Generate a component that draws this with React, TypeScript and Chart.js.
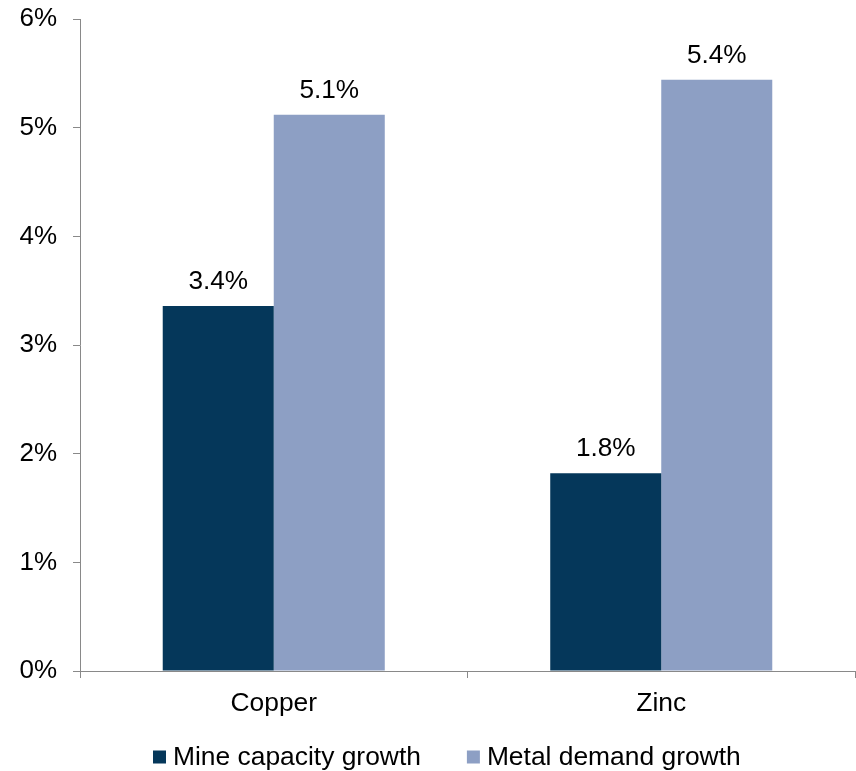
import React, { useEffect, useRef } from "react";
import { Chart, registerables } from "chart.js";

Chart.register(...registerables);

const categories = ["Copper", "Zinc"];
const mineCapacityGrowth = [3.36, 1.82];
const metalDemandGrowth = [5.12, 5.44];
const seriesNames = ["Mine capacity growth", "Metal demand growth"];
const seriesColors = ["#05375A", "#8D9FC4"];
const yTicks = [0, 1, 2, 3, 4, 5, 6];

const FONT = "'Liberation Sans', Arial, sans-serif";
const AXIS = "#898989";

const valueLabels = {
  id: "valueLabels",
  afterDatasetsDraw(chart: any) {
    const ctx = chart.ctx;
    ctx.save();
    ctx.font = `26.2px ${FONT}`;
    ctx.fillStyle = "#000";
    ctx.textAlign = "center";
    ctx.textBaseline = "alphabetic";
    chart.data.datasets.forEach((ds: any, i: number) => {
      const meta = chart.getDatasetMeta(i);
      meta.data.forEach((bar: any, j: number) => {
        const v = ds.data[j] as number;
        ctx.fillText(v.toFixed(1) + "%", bar.x, bar.y - 17);
      });
    });
    ctx.restore();
  },
};

const customLegend = {
  id: "customLegend",
  afterDraw(chart: any) {
    const ctx = chart.ctx;
    ctx.save();
    ctx.font = `26.4px ${FONT}`;
    ctx.textBaseline = "middle";
    ctx.textAlign = "left";
    const box = 13;
    const gapText = 7;
    const gapItem = 46;
    const items = chart.data.datasets.map((ds: any) => ({
      label: ds.label,
      color: ds.backgroundColor,
      w: box + gapText + ctx.measureText(ds.label).width,
    }));
    let x = 153;
    const y = 757;
    items.forEach((it: any) => {
      ctx.fillStyle = it.color;
      ctx.fillRect(x, y - box / 2, box, box);
      ctx.fillStyle = "#000";
      ctx.fillText(it.label, x + box + gapText, y + 1);
      x += it.w + gapItem;
    });
    ctx.restore();
  },
};

export default function App() {
  const ref = useRef<HTMLCanvasElement>(null);
  useEffect(() => {
    const chart = new Chart(ref.current as HTMLCanvasElement, {
      type: "bar",
      data: {
        labels: categories,
        datasets: [
          {
            label: seriesNames[0],
            data: mineCapacityGrowth,
            backgroundColor: seriesColors[0],
            categoryPercentage: 0.573,
            barPercentage: 1,
          },
          {
            label: seriesNames[1],
            data: metalDemandGrowth,
            backgroundColor: seriesColors[1],
            categoryPercentage: 0.573,
            barPercentage: 1,
          },
        ],
      },
      options: {
        animation: false,
        responsive: false,
        maintainAspectRatio: false,
        layout: { padding: { top: 19, right: 1, left: 0, bottom: 0 } },
        plugins: {
          legend: { display: false },
          tooltip: { enabled: false },
        },
        scales: {
          x: {
            grid: {
              offset: true,
              drawOnChartArea: false,
              drawTicks: true,
              tickLength: 7,
              color: AXIS,
            },
            border: { color: AXIS, width: 1 },
            ticks: {
              color: "#000",
              font: { family: FONT, size: 26.4 },
              padding: 10,
            },
            afterFit: (scale: any) => {
              scale.height = 100;
              scale.paddingLeft = 0;
              scale.paddingRight = 0;
            },
          },
          y: {
            min: 0,
            max: 6,
            afterBuildTicks: (scale: any) => {
              scale.ticks = yTicks.map((v) => ({ value: v }));
            },
            grid: {
              drawOnChartArea: false,
              drawTicks: true,
              tickLength: 7,
              color: AXIS,
            },
            border: { color: AXIS, width: 1 },
            ticks: {
              color: "#000",
              font: { family: FONT, size: 26 },
              padding: 16,
              callback: (v: any) => v + "%",
            },
            afterFit: (scale: any) => {
              scale.width = 80;
              scale.paddingTop = 0;
              scale.paddingBottom = 0;
            },
          },
        },
      },
      plugins: [valueLabels, customLegend],
    } as any);
    return () => chart.destroy();
  }, []);
  return (
    <div style={{ position: "fixed", left: 0, top: 0, width: 856, height: 771, background: "#fff" }}>
      <canvas ref={ref} width={856} height={771} style={{ width: 856, height: 771 }} />
    </div>
  );
}
